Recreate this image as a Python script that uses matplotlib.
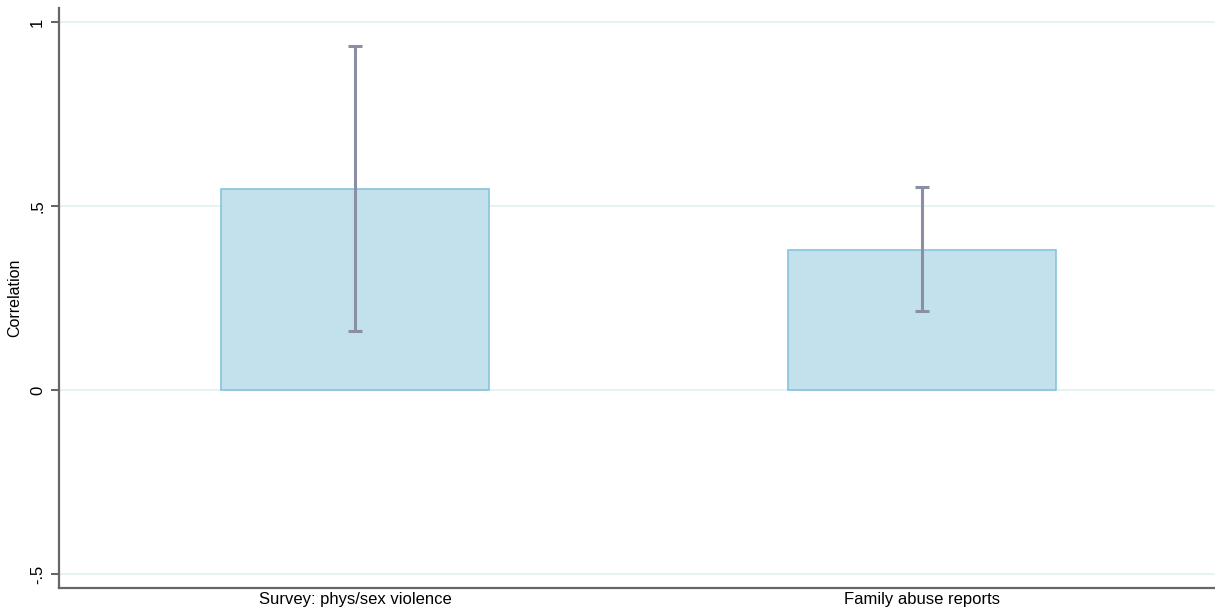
import matplotlib
matplotlib.use("Agg")
import matplotlib.pyplot as plt

categories = ["Survey: phys/sex violence", "Family abuse reports"]
correlation = [0.545, 0.380]
ci_low = [0.160, 0.215]
ci_high = [0.935, 0.552]

y_ticks = [-0.5, 0, 0.5, 1]
y_tick_labels = ["-.5", "0", ".5", "1"]


def main():
    plt.rcParams["font.family"] = ["Liberation Sans", "DejaVu Sans"]

    fig = plt.figure(figsize=(12.15, 6.14), dpi=100)
    ax = fig.add_axes([59 / 1215, 26 / 614, 1156 / 1215, 580 / 614])

    x = list(range(len(categories)))
    err_lo = [c - lo for c, lo in zip(correlation, ci_low)]
    err_hi = [hi - c for c, hi in zip(correlation, ci_high)]

    for t in y_ticks:
        ax.axhline(t, color="#e3f1f1", linewidth=1.2, zorder=0)

    ax.bar(x, correlation, width=0.473, color="#c3e1ed", edgecolor="#86c3da",
           linewidth=1.2, zorder=2)
    ax.errorbar(x, correlation, yerr=[err_lo, err_hi], fmt="none",
                ecolor="#8a8fa5", elinewidth=2.2, capsize=5, capthick=2.2, zorder=3)

    ax.set_xlim(-0.522, 1.517)
    ax.set_ylim(-0.538, 1.038)
    ax.set_xticks(x)
    ax.set_xticklabels(categories, fontsize=12)
    ax.tick_params(axis="x", length=0, pad=3)
    ax.set_yticks(y_ticks)
    ax.set_yticklabels(y_tick_labels, fontsize=12, rotation=90, va="center")
    ax.tick_params(axis="y", length=6, width=1.3, color="#555555", pad=4)
    ax.set_ylabel("Correlation", fontsize=11.5, labelpad=6)

    for side in ["top", "right"]:
        ax.spines[side].set_visible(False)
    for side in ["left", "bottom"]:
        ax.spines[side].set_color("#666666")
        ax.spines[side].set_linewidth(1.6)

    fig.savefig("out.png", dpi=100)


if __name__ == "__main__":
    main()
